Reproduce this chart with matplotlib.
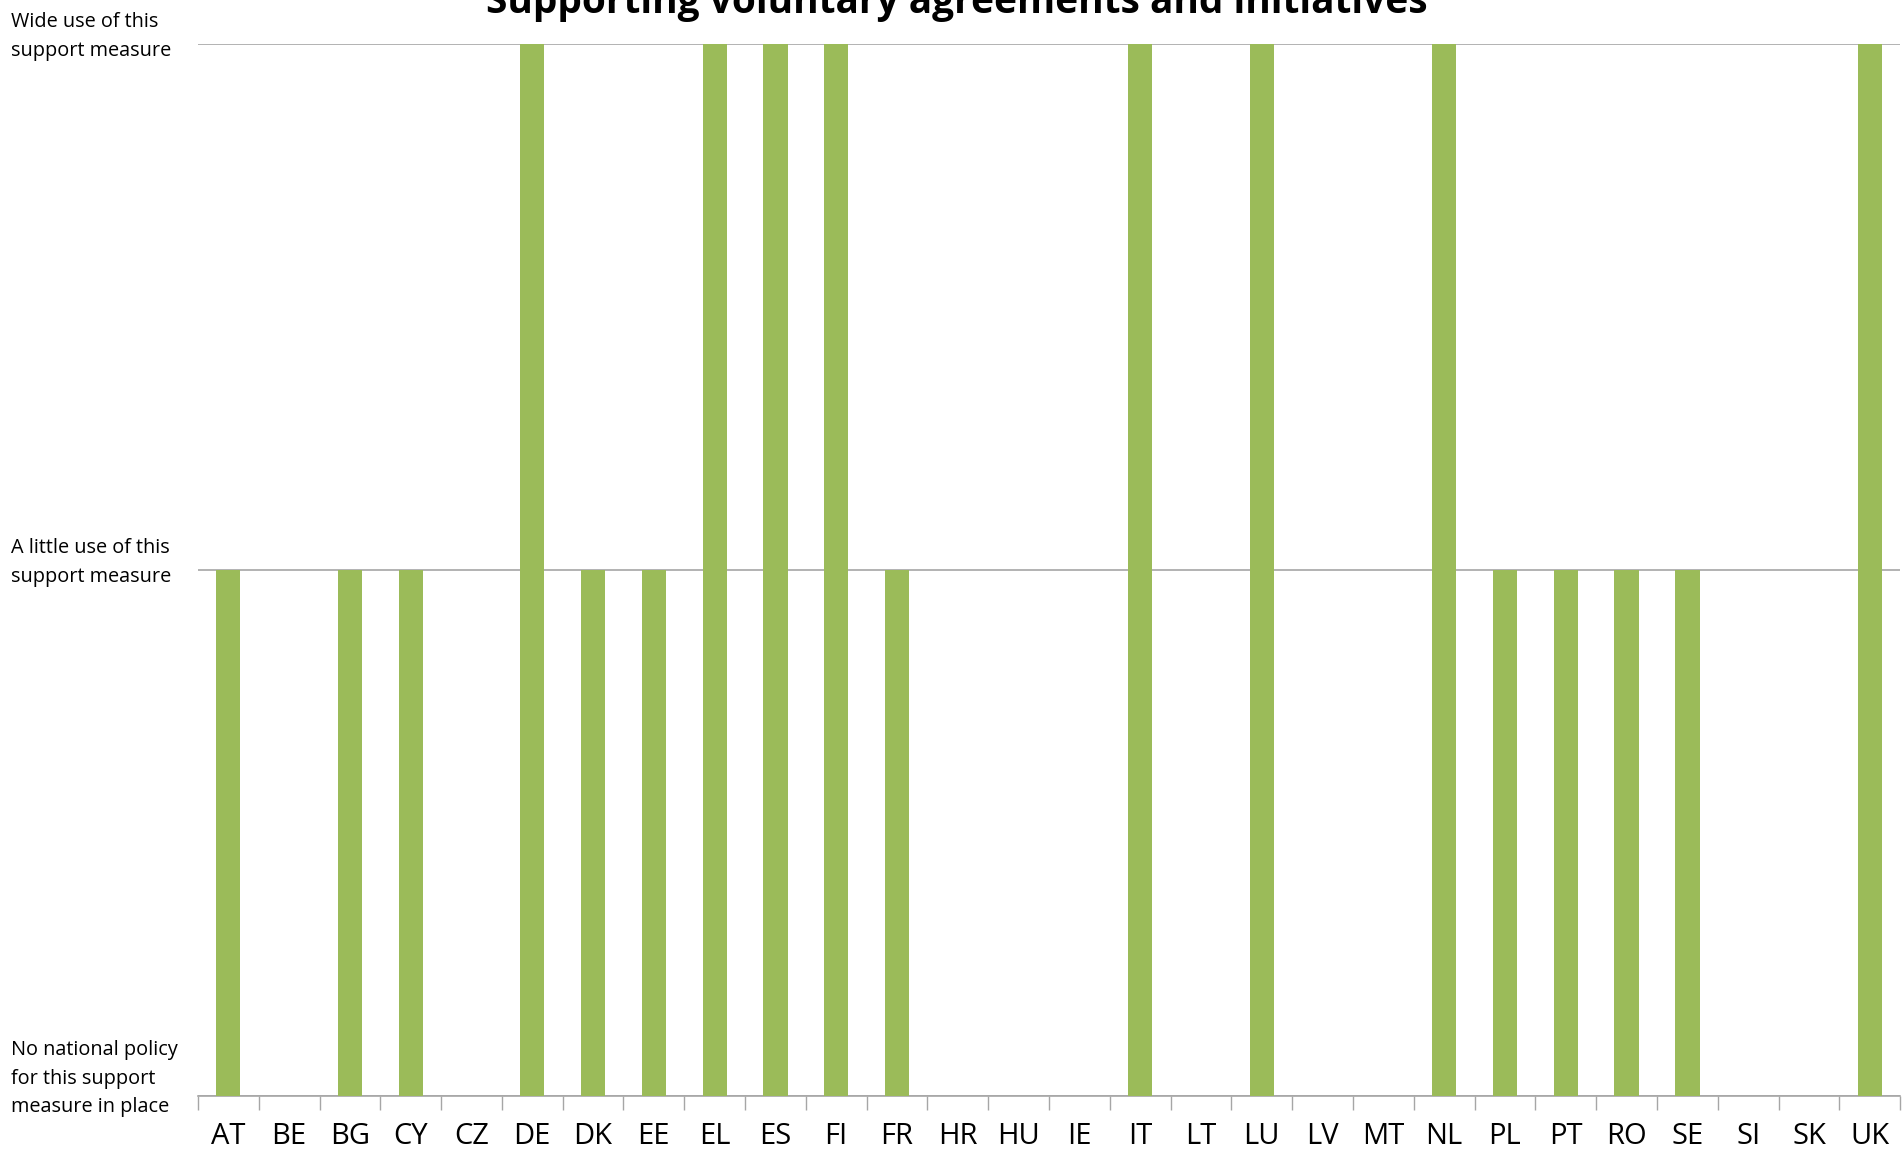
import numpy as np
import matplotlib.pyplot as plt
from matplotlib.transforms import ScaledTranslation

countries = ['AT', 'BE', 'BG', 'CY', 'CZ', 'DE', 'DK', 'EE', 'EL', 'ES', 'FI', 'FR', 'HR', 'HU',
             'IE', 'IT', 'LT', 'LU', 'LV', 'MT', 'NL', 'PL', 'PT', 'RO', 'SE', 'SI', 'SK', 'UK']
# 0 = no national policy, 1 = a little use, 2 = wide use
levels = [1, 0, 1, 1, 0, 2, 1, 1, 2, 2, 2, 1, 0, 0,
          0, 2, 0, 2, 0, 0, 2, 1, 1, 1, 1, 0, 0, 2]
level_labels = ['No national policy\nfor this support\nmeasure in place',
                'A little use of this\nsupport measure',
                'Wide use of this\nsupport measure']
title = 'Supporting voluntary agreements and initiatives'

plt.rcParams['font.family'] = ['Open Sans', 'DejaVu Sans']

fig = plt.figure(figsize=(19.03, 11.52), dpi=100)
ax = fig.add_axes([0.104, 0.0486, 0.8945, 0.9134])

x = np.arange(len(countries))
ax.bar(x, levels, width=0.4, color='#9BBB59', zorder=3)

ax.set_xlim(-0.5, len(countries) - 0.5)
ax.set_ylim(0, 2)
ax.set_xticks(x)
ax.set_xticklabels(countries, fontsize=21)
ax.set_xticks(np.arange(-0.5, len(countries)), minor=True)
ax.tick_params(axis='x', which='major', length=0, pad=19)
ax.tick_params(axis='x', which='minor', length=10, color='#A6A6A6', width=1)

ax.set_yticks([0, 1, 2])
ax.set_yticklabels(level_labels, fontsize=14.3, linespacing=1.55)
ax.tick_params(axis='y', length=0, pad=187 * 72 / 100)
# lift labels a bit above their gridlines (bottom one more)
for lab, dy in zip(ax.get_yticklabels(), [24, 14, 14]):
    lab.set_horizontalalignment('left')
    lab.set_transform(lab.get_transform() + ScaledTranslation(0, dy / 100, fig.dpi_scale_trans))

ax.grid(axis='y', color='#A6A6A6', linewidth=1.2, zorder=0)
for s in ['left', 'right', 'top']:
    ax.spines[s].set_visible(False)
ax.spines['bottom'].set_color('#A6A6A6')
ax.spines['bottom'].set_linewidth(1.2)

fig.text(0.503, 1 - 13 / 1152, title, ha='center', va='baseline',
         fontsize=28, fontweight='bold')

fig.savefig('out.png', dpi=100)
